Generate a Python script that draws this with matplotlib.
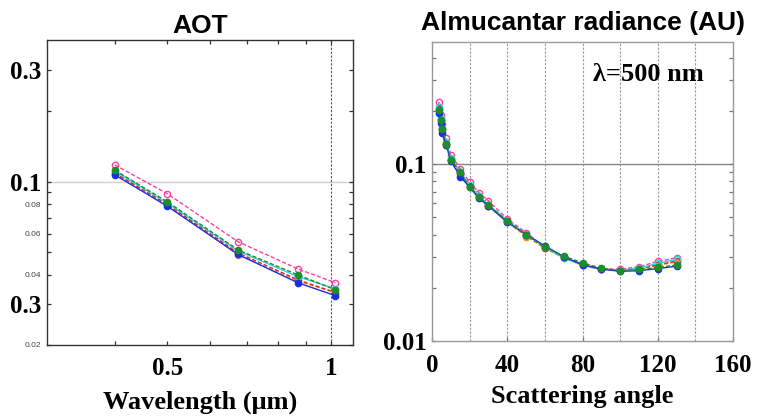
import numpy as np
import matplotlib
matplotlib.use("Agg")
import matplotlib.pyplot as plt
from matplotlib.ticker import FixedLocator, NullFormatter, NullLocator

# AOT spectra (wavelength in um)
wavelength = [0.40, 0.50, 0.675, 0.87, 1.02]
aot_pink = [0.118, 0.0888, 0.0553, 0.0423, 0.0369]
aot_green = [0.112, 0.0820, 0.0510, 0.0399, 0.0344]
aot_cyan = [0.111, 0.0810, 0.0505, 0.0392, 0.0348]
aot_red = [0.109, 0.0800, 0.0495, 0.0380, 0.0335]
aot_orange = [0.108, 0.0795, 0.0485, 0.0375, 0.0335]
aot_blue = [0.107, 0.0785, 0.0488, 0.0369, 0.0325]

# almucantar radiance at 500 nm
angle = [3.5, 4.5, 5.5, 7.5, 10, 15, 20, 25, 30, 40, 50, 60, 70, 80, 90, 100, 110, 120, 130]
rad_pink = [0.225, 0.190, 0.168, 0.140, 0.113, 0.094, 0.079, 0.069, 0.062, 0.049, 0.041,
            0.0340, 0.0300, 0.0270, 0.0255, 0.0255, 0.0263, 0.0282, 0.0296]
rad_cyan = [0.210, 0.182, 0.160, 0.133, 0.108, 0.090, 0.076, 0.066, 0.059, 0.048, 0.040,
            0.0340, 0.0295, 0.0268, 0.0255, 0.0252, 0.0258, 0.0275, 0.0290]
rad_red = [0.205, 0.178, 0.157, 0.130, 0.106, 0.089, 0.075, 0.065, 0.058, 0.048, 0.040,
           0.0338, 0.0298, 0.0272, 0.0256, 0.0252, 0.0257, 0.0270, 0.0284]
rad_orange = [0.203, 0.176, 0.155, 0.129, 0.105, 0.088, 0.074, 0.064, 0.058, 0.047, 0.039,
              0.0335, 0.0295, 0.0268, 0.0254, 0.0251, 0.0255, 0.0268, 0.0280]
rad_blue = [0.195, 0.170, 0.150, 0.128, 0.104, 0.085, 0.074, 0.064, 0.058, 0.047, 0.040,
            0.0345, 0.0300, 0.0270, 0.0255, 0.0248, 0.0250, 0.0257, 0.0265]
rad_green = [0.202, 0.178, 0.158, 0.130, 0.106, 0.090, 0.0745, 0.0654, 0.0587, 0.0478, 0.0397,
             0.0341, 0.0302, 0.0277, 0.0258, 0.0250, 0.0254, 0.0261, 0.0269]

aot_ticks = [0.02, 0.03, 0.04, 0.06, 0.08, 0.1, 0.3]
aot_labels = ["0.02", "0.3", "0.04", "0.06", "0.08", "0.1", "0.3"]
aot_big = [False, True, False, False, False, True, True]

serif = "Liberation Serif"
sans = "Liberation Sans"

fig = plt.figure(figsize=(7.58, 4.16), dpi=100)
ax1 = fig.add_axes([0.062, 0.171, 0.404, 0.733])
ax2 = fig.add_axes([0.570, 0.180, 0.397, 0.719])

styles = [
    ("#ff3fa0", "o", "none", "--"),
    ("#ff8c1a", "o", "#ff8c1a", "--"),
    ("#e02020", "o", "none", "--"),
    ("#2fd0e0", "o", "none", "-"),
    ("#1a2fe0", "o", "#1a2fe0", "-"),
    ("#1a8f2a", "o", "#1a8f2a", "--"),
]

aot_series = [aot_pink, aot_orange, aot_red, aot_cyan, aot_blue, aot_green]
for (c, m, fc, ls), vals in zip(styles, aot_series):
    ax1.plot(wavelength, vals, color=c, ls=ls, lw=1.0, marker=m, ms=4.5,
             mfc=fc, mec=c, mew=1.0, dashes=(3, 1.5) if ls == "--" else (None, None))

rad_series = [rad_pink, rad_orange, rad_red, rad_cyan, rad_blue, rad_green]
for (c, m, fc, ls), vals in zip(styles, rad_series):
    ax2.plot(angle, vals, color=c, ls=ls, lw=1.0, marker=m, ms=4.5,
             mfc=fc, mec=c, mew=1.0, dashes=(3, 1.5) if ls == "--" else (None, None))

# ---- left panel: AOT
ax1.set_xscale("log")
ax1.set_yscale("log")
ax1.set_xlim(0.30, 1.10)
ax1.set_ylim(0.02, 0.405)
ax1.axhline(0.1, color="#d0d0d0", lw=1.0, zorder=0)
ax1.axvline(1.0, color="#555555", lw=0.8, ls=(0, (2, 1.5)), zorder=0)

ax1.xaxis.set_major_locator(FixedLocator([0.5, 1.0]))
ax1.set_xticklabels(["0.5", "1"])
ax1.xaxis.set_minor_locator(FixedLocator([0.4, 0.6, 0.7, 0.8, 0.9]))
ax1.xaxis.set_minor_formatter(NullFormatter())
ax1.yaxis.set_major_locator(FixedLocator(aot_ticks))
ax1.set_yticklabels(aot_labels)
ax1.yaxis.set_minor_locator(FixedLocator([0.05, 0.07, 0.09, 0.2]))
ax1.yaxis.set_minor_formatter(NullFormatter())
for lab, big in zip(ax1.get_yticklabels(), aot_big):
    if big:
        lab.set_fontfamily(serif)
        lab.set_fontweight("bold")
        lab.set_fontsize(18)
        lab.set_color("black")
    else:
        lab.set_fontfamily(sans)
        lab.set_fontsize(6)
        lab.set_color("#444444")
for lab in ax1.get_xticklabels():
    lab.set_fontfamily(serif)
    lab.set_fontweight("bold")
    lab.set_fontsize(18)
ax1.tick_params(which="both", direction="in", top=True, right=True, length=3,
                width=0.9, color="#333333", pad=4)
ax1.tick_params(axis="x", pad=9)
ax1.set_xlabel("Wavelength (\u03bcm)", family=serif, weight="bold", fontsize=19, labelpad=7)
ax1.set_title("AOT", family=sans, weight="bold", fontsize=19, pad=5)
for sp in ax1.spines.values():
    sp.set_color("#333333")
    sp.set_linewidth(1.0)

# ---- right panel: almucantar
ax2.set_yscale("log")
ax2.set_xlim(0, 160)
ax2.set_ylim(0.01, 0.49)
for xv in range(20, 160, 20):
    ax2.axvline(xv, color="#999999", lw=0.8, ls=(0, (2, 1.5)), zorder=0)
ax2.axhline(0.1, color="#888888", lw=1.0, zorder=0)
ax2.set_xticks([0, 40, 80, 120, 160])
ax2.xaxis.set_minor_locator(NullLocator())
ax2.yaxis.set_major_locator(FixedLocator([0.01, 0.1]))
ax2.set_yticklabels(["0.01", "0.1"])
ax2.yaxis.set_minor_locator(FixedLocator([0.02, 0.03, 0.04, 0.05, 0.06, 0.07, 0.08, 0.09,
                                          0.2, 0.3, 0.4]))
ax2.yaxis.set_minor_formatter(NullFormatter())
for lab in ax2.get_xticklabels() + ax2.get_yticklabels():
    lab.set_fontfamily(serif)
    lab.set_fontweight("bold")
    lab.set_fontsize(18)
ax2.tick_params(which="both", direction="in", right=True, length=3, width=0.9,
                color="#777777", pad=4)
ax2.tick_params(axis="x", pad=9)
ax2.set_xlabel("Scattering angle", family=serif, weight="bold", fontsize=19, labelpad=6)
ax2.set_title("Almucantar radiance (AU)", family=sans, weight="bold", fontsize=19, pad=9)
ax2.text(115, 0.32, "\u03bb=500 nm", family=serif, weight="bold", fontsize=19,
         ha="center", va="center")
for sp in ax2.spines.values():
    sp.set_color("#999999")
    sp.set_linewidth(1.0)

fig.savefig("out.png", dpi=100)
